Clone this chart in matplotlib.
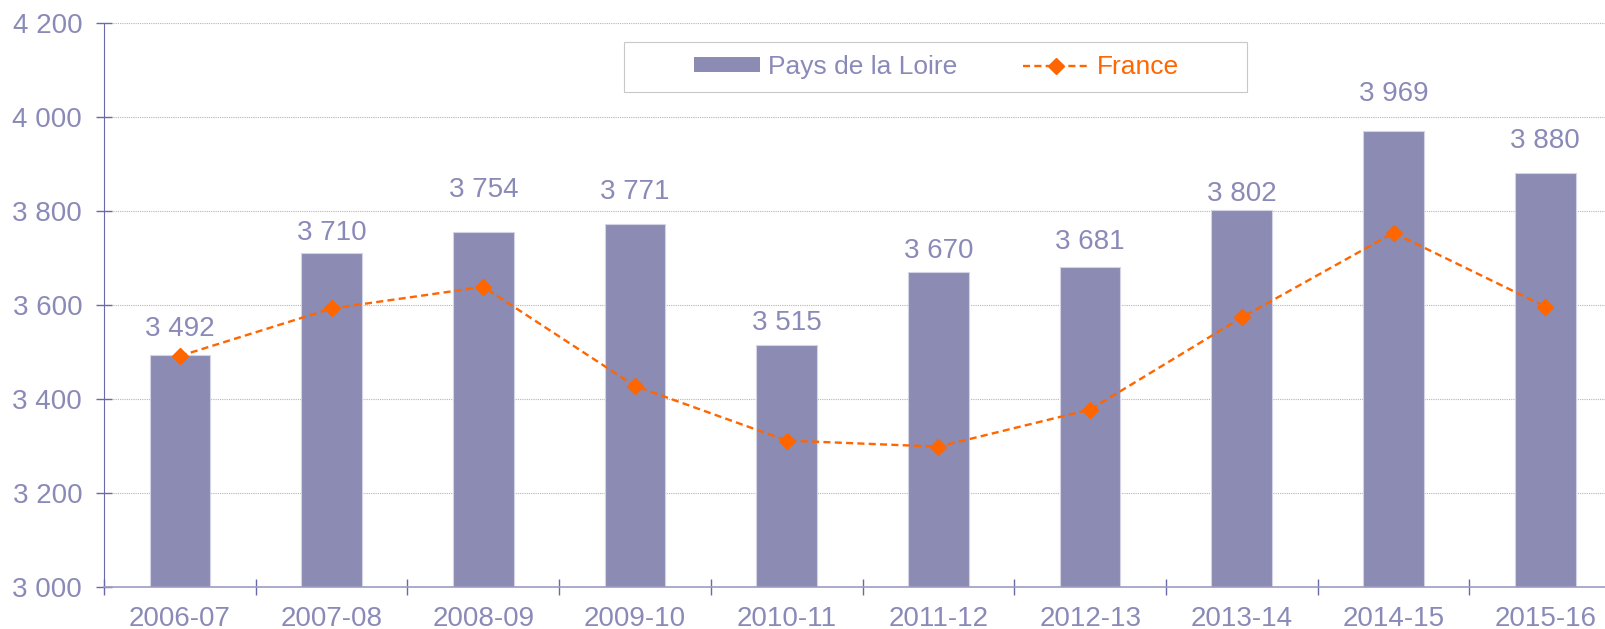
import matplotlib
matplotlib.use('Agg')
import matplotlib.pyplot as plt
from matplotlib.patches import Rectangle, Patch
from matplotlib.lines import Line2D
from matplotlib.ticker import FixedLocator, FuncFormatter
import numpy as np

plt.rcParams['font.family'] = ['Liberation Sans', 'DejaVu Sans']

# data
years = ['2006-07', '2007-08', '2008-09', '2009-10', '2010-11',
         '2011-12', '2012-13', '2013-14', '2014-15', '2015-16']
loire = [3492, 3710, 3754, 3771, 3515, 3670, 3681, 3802, 3969, 3880]
france = [3491, 3592, 3638, 3427, 3311, 3298, 3377, 3573, 3753, 3596]
yticks = [3000, 3200, 3400, 3600, 3800, 4000, 4200]

# label offsets above bar tops (pixels), labels were hand placed in the original
lab_off = [26, 20, 42, 32, 22, 21, 25, 16, 37, 32]

BAR = '#8b8bb4'
TXT = '#8a8ab8'
ORANGE = '#ff6600'
FS = 20
DASH = (0, (3, 1.8))

fig = plt.figure(figsize=(16.06, 6.29), dpi=100)
ax = fig.add_axes([0.0648, 0.0672, 0.9446, 0.8967])

x = np.arange(len(years))
ax.bar(x, loire, width=0.4, color=BAR, edgecolor='#d4d4e4', linewidth=0.8, zorder=2)
ax.plot(x, france, color=ORANGE, ls=DASH, lw=1.7, marker='D', ms=8.5, zorder=3)

def fmt(v, p=None):
    return '{:,.0f}'.format(v).replace(',', ' ')

for i, v in enumerate(loire):
    ax.annotate(fmt(v), (x[i], v), xytext=(0, lab_off[i]), textcoords='offset pixels',
                ha='center', va='center', fontsize=FS, color=TXT)

ax.set_xlim(-0.5, len(years) - 0.5)
ax.set_ylim(3000, 4200)
ax.yaxis.set_major_locator(FixedLocator(yticks))
ax.yaxis.set_major_formatter(FuncFormatter(fmt))
ax.set_xticks(x)
ax.set_xticklabels(years)
ax.xaxis.set_minor_locator(FixedLocator(np.arange(-0.5, len(years), 1.0)))

ax.tick_params(axis='y', direction='inout', length=11.5, width=1, color='#6a6aa8',
               labelsize=FS, labelcolor=TXT, pad=10)
ax.tick_params(axis='x', which='major', length=0, labelsize=FS, labelcolor=TXT, pad=14)
ax.tick_params(axis='x', which='minor', direction='inout', length=11.5, width=1,
               color='#6a6aa8')

ax.grid(axis='y', ls=(0, (1, 1)), color='#b5b5b5', lw=0.8, zorder=0)
ax.set_axisbelow(True)
for s in ['top', 'right']:
    ax.spines[s].set_visible(False)
ax.spines['left'].set_color('#6a6aa8')
ax.spines['bottom'].set_color('#9c9cc4')
ax.spines['bottom'].set_linewidth(1.2)

# legend box is much wider than its content, so draw the frame by hand
ax.add_patch(Rectangle((0.3428, 0.877), 0.4107, 0.0888, transform=ax.transAxes,
                       facecolor='white', edgecolor='#c8c8c8', lw=0.8, zorder=4,
                       clip_on=False))
handles = [Patch(facecolor=BAR, edgecolor='none'),
           Line2D([], [], color=ORANGE, ls=DASH, lw=1.7, marker='D', ms=8.5)]
leg = ax.legend(handles, ['Pays de la Loire', 'France'], loc='center',
                bbox_to_anchor=(0.549, 0.921), ncol=2, fontsize=19, frameon=False,
                handlelength=2.5, handleheight=0.5, columnspacing=2.5,
                borderpad=0, borderaxespad=0, handletextpad=0.3)
leg.set_zorder(5)
leg.get_texts()[0].set_color(TXT)
leg.get_texts()[1].set_color(ORANGE)

fig.savefig('out.png', dpi=100)
